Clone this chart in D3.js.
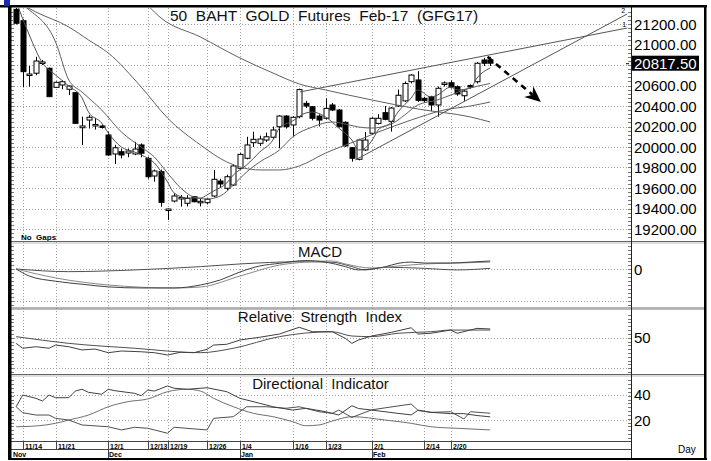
<!DOCTYPE html>
<html>
<head>
<meta charset="utf-8">
<script src="https://cdn.jsdelivr.net/npm/d3@7"></script>
<style>
  body { margin: 0; background: #fff; }
  svg { display: block; font-family: "Liberation Sans", Arial, sans-serif; }
  .pre { white-space: pre; }
</style>
</head>
<body>
<svg id="chart"></svg>
<script>
// ---- price bars (11/11 .. 2/28), one entry per trading day ----
var opens = [21343,21232,20700,20720,20815,20768,20582,20605,20563,20530,
  20188,20263,20210,20205,20117,19932,19954,19941,19932,20020,
  19889,19717,19759,19382,19473,19500,19451,19515,19462,19457,
  19522,19668,19597,19629,19792,19890,20042,20036,20068,20095,
  20198,20302,20215,20296,20426,20393,20302,20280,20410,20361,
  20241,19993,19880,19971,20134,20230,20335,20250,20400,20450,
  20637,20654,20475,20490,20410,20610,20627,20588,20500,20600,
  20637,20849,20849];
var highs = [21360,21250,20790,20880,20850,20775,20640,20650,20600,20535,
  20296,20310,20285,20215,20149,20020,19985,19985,20051,20035,
  19905,19780,19780,19400,19550,19532,19530,19520,19500,19500,
  19776,19690,19730,19830,19940,20100,20149,20110,20140,20200,
  20310,20310,20300,20570,20450,20400,20320,20475,20430,20370,
  20250,20000,20080,20147,20290,20320,20400,20390,20560,20640,
  20710,20740,20490,20500,20590,20640,20650,20600,20560,20610,
  20830,20870,20880];
var lows = [21195,20582,20590,20700,20800,20490,20575,20563,20507,20225,
  20020,20180,20170,20180,19915,19834,19890,19900,19920,19900,
  19690,19661,19418,19288,19460,19418,19420,19460,19420,19440,
  19510,19600,19570,19620,19780,19880,20000,20010,20050,20080,
  19988,20180,20100,20280,20380,20260,20200,20270,20350,20190,
  20000,19857,19870,19960,20120,20220,20260,20150,20390,20440,
  20620,20440,20430,20350,20296,20590,20570,20500,20450,20570,
  20620,20790,20790];
var closes = [21207,20735,20712,20839,20830,20491,20631,20637,20595,20231,
  20205,20290,20220,20195,19922,19993,19922,19961,19980,19939,
  19710,19766,19460,19395,19522,19508,19499,19466,19470,19490,
  19685,19639,19710,19815,19928,20020,20075,20078,20100,20166,
  20302,20198,20290,20560,20400,20280,20263,20377,20361,20198,
  20010,19890,20068,20068,20280,20280,20270,20380,20505,20620,
  20702,20455,20452,20410,20573,20625,20585,20517,20545,20590,
  20817,20817,20817.5];
var lastPrice = 20817.50;

// ---- date axis ----
var dateIdx = [1, 6, 14, 20, 23, 29, 34, 42, 47, 54, 62, 66];
var dateLabels = ["11/14","11/21","12/1","12/13","12/19","12/26","1/4","1/16","1/23","2/1","2/14","2/20"];
var monthIdx = [-0.6, 14, 34, 54];
var monthLabels = ["Nov","Dec","Jan","Feb"];
var priceTicks = [19200,19400,19600,19800,20000,20200,20400,20600,20800,21000,21200];

// ---- moving averages: [bar index, price] ----
var maFast = [[0,21420],[2,21093],[4,20820],[6,20702],[8,20595],[10,20480],[11,20341],[13,20234],[14,20137],
  [16,19999],[18,19951],[19,19922],[21,19844],[23,19659],[24,19551],[26,19502],[28,19502],[29,19532],
  [30,19571],[32,19649],[33,19727],[35,19824],[37,19951],[39,20068],[40,20185],[42,20254],[44,20332],
  [45,20341],[47,20293],[49,20185],[51,20068],[52,19971],[53,19990],[54,20060],[55,20166],[57,20244],
  [58,20341],[60,20478],[61,20556],[63,20488],[64,20507],[66,20585],[67,20556],[69,20576],[70,20673],[72,20771]];
var maMid = [[0,21420],[2,21337],[6,21024],[8,20654],[10,20537],[13,20361],[16,20146],[19,19999],[21,19902],
  [23,19746],[25,19600],[27,19512],[29,19493],[31,19522],[33,19629],[35,19756],[37,19854],[40,19971],
  [42,20098],[45,20195],[48,20244],[50,20224],[52,20195],[54,20185],[57,20224],[59,20312],[61,20410],
  [64,20459],[66,20507],[68,20556],[72,20620]];
var maSlow = [[0,21420],[3,21317],[8,21171],[11,21044],[14,20917],[19,20585],[23,20283],[28,20020],
  [32,19854],[37,19776],[40,19776],[43,19815],[47,19941],[52,20068],[55,20146],[60,20263],[65,20361],
  [69,20400],[72,20439]];
var maLong = [[18,21530],[22,21259],[28,21073],[34,20868],[39,20722],[43,20615],[47,20556],[54,20459],
  [61,20371],[69,20293],[72,20244]];

// ---- trend lines and forecast arrow ----
var trend1 = [[43.1,20537],[92.8,21161]];
var trend2 = [[51.5,19873],[92.8,21298]];
var arrowPath = [[71.6,20880],[79.7,20440]];

// ---- MACD ----
var macdLine = [[0,2],[2,-43],[6,-76],[10,-95],[14,-112],[19,-119],[24,-119],[28,-100],[31,-68],[34,-17],
  [37,21],[40,38],[44,56],[47,46],[50,17],[52,-4],[54,2],[56,15],[58,38],[60,46],[62,40],[66,40],[69,46],[72,53]];
var macdSignal = [[0,2],[6,-55],[14,-100],[24,-119],[28,-113],[34,-43],[40,27],[44,46],[48,53],[50,34],
  [54,8],[58,21],[62,34],[67,40],[72,46]];
var macdSlow = [[0,2],[8,-15],[18,-4],[28,17],[34,34],[43,48],[48,45],[51,17],[53,-4],[56,13],[62,6],[67,-4],[72,6]];

// ---- RSI ----
var rsiLine = [[0,46.3],[1,43.1],[3,44.1],[5,43.1],[6,45.2],[8,44.1],[10,42.0],[12,42.6],[14,40.2],[16,41.3],
  [19,40.8],[21,40.2],[23,38.7],[25,40.5],[27,40.2],[29,42.4],[30,45.2],[32,45.7],[34,48.5],[37,50.3],
  [40,52.4],[41,53.9],[43,56.8],[45,53.9],[48,53.9],[50,49.6],[51,46.3],[52,48.5],[54,51.1],[57,53.5],
  [60,56.5],[61,52.4],[63,52.9],[66,55.0],[67,52.9],[70,56.1],[72,55.7]];
var rsiAvg = [[0,50.7],[8,46.3],[18,43.1],[28,40.2],[33,43.1],[40,50.7],[48,53.9],[51,51.1],[54,50.7],
  [58,52.9],[63,53.9],[66,55.0],[72,55.0]];

// ---- Directional indicator ----
var diMinus = [[0,30.4],[1,39.6],[3,37.0],[4,34.9],[5,39.6],[6,37.5],[8,37.5],[9,42.7],[10,44.1],[11,41.7],
  [13,40.2],[14,44.1],[15,43.0],[18,40.9],[19,39.1],[20,43.5],[21,42.7],[23,46.7],[24,44.9],[26,44.1],
  [29,45.3],[32,42.2],[34,37.0],[37,33.1],[39,30.4],[42,27.8],[44,29.2],[47,26.5],[49,23.9],[51,31.2],
  [52,29.0],[54,27.8],[56,26.5],[58,25.2],[60,24.0],[61,27.5],[63,26.0],[66,25.0],[68,25.0],[70,23.5],[72,22.5]];
var diPlus = [[0,30.4],[1,25.7],[3,23.9],[5,23.9],[6,21.3],[8,20.0],[10,16.1],[14,14.7],[16,12.2],[18,14.3],
  [20,13.5],[23,9.6],[24,14.3],[29,12.2],[30,21.3],[33,22.6],[35,30.4],[38,30.4],[41,29.2],[43,30.4],
  [46,26.5],[48,25.2],[49,27.8],[51,22.0],[54,28.0],[56,29.5],[58,31.0],[60,32.5],[61,27.8],[63,26.0],
  [66,26.5],[68,20.8],[69,26.5],[72,25.3]];
var adxLine = [[0,14.7],[3,15.3],[6,17.4],[8,20.0],[11,23.9],[14,30.4],[17,34.4],[20,36.5],[23,42.2],
  [26,44.1],[28,42.7],[30,37.0],[33,30.4],[36,25.3],[39,22.6],[42,18.7],[44,15.5],[46,16.1],[48,19.2],
  [51,22.6],[56,20.0],[60,17.4],[63,14.7],[67,13.5],[72,12.2]];

// ---------------------------------------------------------------
var W = 711, H = 461;
var left = 11, axisX = 631, rightEdge = 705;
var svg = d3.select("#chart").attr("width", W).attr("height", H);
svg.append("rect").attr("width", W).attr("height", H).attr("fill", "#fff");

var panels = {
  price: { top: 8, bottom: 241 },
  macd:  { top: 243, bottom: 308 },
  rsi:   { top: 310, bottom: 374 },
  di:    { top: 376, bottom: 441 }
};

var x = d3.scaleLinear().domain([0, 72]).range([16.1, 490.2]);
var yPrice = d3.scaleLinear().domain([19200, 21200]).range([229, 24]);
var yMacd = d3.scaleLinear().domain([-200, 0]).range([300.7, 269.3]);
var yRsi = d3.scaleLinear().domain([30, 50]).range([368.3, 337.7]);
var yDi = d3.scaleLinear().domain([20, 40]).range([420, 394.5]);

// clip paths per panel
var defs = svg.append("defs");
Object.keys(panels).forEach(function(k) {
  defs.append("clipPath").attr("id", "clip-" + k)
    .append("rect")
    .attr("x", left).attr("y", panels[k].top)
    .attr("width", axisX - left).attr("height", panels[k].bottom - panels[k].top);
});

var grid = svg.append("g").attr("stroke", "#a0a0a0").attr("stroke-dasharray", "1,2").attr("stroke-width", 1);

// vertical date grid
grid.selectAll(".vg").data(dateIdx).enter().append("line")
  .attr("x1", d => Math.round(x(d)) + 0.5).attr("x2", d => Math.round(x(d)) + 0.5)
  .attr("y1", panels.price.top).attr("y2", panels.di.bottom);

// horizontal grids
function hgrid(vals, scale) {
  grid.selectAll(null).data(vals).enter().append("line")
    .attr("x1", left).attr("x2", axisX)
    .attr("y1", d => Math.round(scale(d)) + 0.5).attr("y2", d => Math.round(scale(d)) + 0.5);
}
hgrid(priceTicks, yPrice);
hgrid([0, -200], yMacd);
hgrid([50, 30], yRsi);
hgrid([40, 20], yDi);

// ---- candles ----
var bars = d3.range(opens.length).map(function(i) {
  return { i: i, o: opens[i], h: highs[i], l: lows[i], c: closes[i] };
});
var candles = svg.append("g").attr("clip-path", "url(#clip-price)");
candles.selectAll(".wick").data(bars).enter().append("line")
  .attr("x1", d => Math.round(x(d.i)) + 0.5).attr("x2", d => Math.round(x(d.i)) + 0.5)
  .attr("y1", d => yPrice(d.h)).attr("y2", d => yPrice(d.l))
  .attr("stroke", "#000").attr("stroke-width", 1);
candles.selectAll(".body").data(bars).enter().append("rect")
  .attr("x", d => Math.round(x(d.i)) - 2)
  .attr("y", d => yPrice(Math.max(d.o, d.c)))
  .attr("width", 5)
  .attr("height", d => Math.max(1.5, Math.abs(yPrice(d.o) - yPrice(d.c))))
  .attr("fill", d => d.c >= d.o ? "#fff" : "#000")
  .attr("stroke", "#000").attr("stroke-width", 1);

// ---- moving averages ----
var priceLine = d3.line().x(d => x(d[0])).y(d => yPrice(d[1])).curve(d3.curveMonotoneX);
var maLayer = svg.append("g").attr("clip-path", "url(#clip-price)").attr("fill", "none");
[[maFast, "#505050"], [maMid, "#606060"], [maSlow, "#606060"], [maLong, "#606060"]].forEach(function(m) {
  maLayer.append("path").attr("d", priceLine(m[0])).attr("stroke", m[1]).attr("stroke-width", 1);
});

// trend lines
var straight = d3.line().x(d => x(d[0])).y(d => yPrice(d[1]));
[trend1, trend2].forEach(function(t) {
  maLayer.append("path").attr("d", straight(t)).attr("stroke", "#555").attr("stroke-width", 1);
});
svg.append("text").attr("x", x(trend1[1][0]) - 5).attr("y", yPrice(trend1[1][1]) - 1)
  .attr("font-size", 7).text("1");
svg.append("text").attr("x", x(trend2[1][0]) - 6).attr("y", yPrice(trend2[1][1]) - 0.5)
  .attr("font-size", 7).text("2");

// forecast arrow
(function() {
  var p0 = [x(arrowPath[0][0]), yPrice(arrowPath[0][1])];
  var p1 = [x(arrowPath[1][0]), yPrice(arrowPath[1][1])];
  var dx = p1[0] - p0[0], dy = p1[1] - p0[1], len = Math.sqrt(dx * dx + dy * dy);
  var ux = dx / len, uy = dy / len, nx = -uy, ny = ux;
  var L = 16, Wd = 7, notch = 11;
  svg.append("line")
    .attr("x1", p0[0]).attr("y1", p0[1])
    .attr("x2", p1[0] - ux * notch).attr("y2", p1[1] - uy * notch)
    .attr("stroke", "#000").attr("stroke-width", 2.6).attr("stroke-dasharray", "6,5");
  var pts = [
    [p1[0], p1[1]],
    [p1[0] - ux * L + nx * Wd, p1[1] - uy * L + ny * Wd],
    [p1[0] - ux * notch, p1[1] - uy * notch],
    [p1[0] - ux * L - nx * Wd, p1[1] - uy * L - ny * Wd]
  ];
  svg.append("polygon").attr("points", pts.map(p => p.join(",")).join(" ")).attr("fill", "#000");
})();

// ---- indicator lines ----
function drawLines(list, scale, panel, curve) {
  var g = svg.append("g").attr("clip-path", "url(#clip-" + panel + ")").attr("fill", "none");
  list.forEach(function(s) {
    var gen = d3.line().x(d => x(d[0])).y(d => scale(d[1])).curve(s[2] || d3.curveLinear);
    g.append("path").attr("d", gen(s[0])).attr("stroke", s[1]).attr("stroke-width", 1);
  });
}
drawLines([[macdSlow, "#505050", d3.curveMonotoneX], [macdSignal, "#888", d3.curveMonotoneX], [macdLine, "#404040", d3.curveMonotoneX]], yMacd, "macd");
drawLines([[rsiAvg, "#505050", d3.curveMonotoneX], [rsiLine, "#404040"]], yRsi, "rsi");
drawLines([[adxLine, "#707070", d3.curveMonotoneX], [diPlus, "#505050"], [diMinus, "#404040"]], yDi, "di");

// ---- panel titles ----
var titles = [
  ["50  BAHT  GOLD  Futures  Feb-17  (GFG17)", 324, 20.5, 15.5],
  ["MACD", 320, 257, 15],
  ["Relative  Strength  Index", 320, 322, 15],
  ["Directional  Indicator", 320.5, 389, 15]
];
svg.selectAll(".title").data(titles).enter().append("text")
  .attr("class", "pre")
  .attr("x", d => d[1]).attr("y", d => d[2])
  .attr("text-anchor", "middle").attr("font-size", d => d[3]).attr("fill", "#111")
  .text(d => d[0]);

svg.append("text").attr("x", 21).attr("y", 239.5).attr("font-size", 8).attr("font-weight", "bold")
  .attr("class", "pre").text("No  Gaps");

// ---- right axis (the last price replaces the tick label it covers) ----
var axisG = svg.append("g").attr("font-size", 15).attr("fill", "#000");
axisG.selectAll(".pl").data(priceTicks.filter(d => Math.abs(yPrice(d) - yPrice(lastPrice)) > 10)).enter().append("text")
  .attr("x", 634).attr("y", d => yPrice(d) + 5.5).text(d => d3.format(".2f")(d));
axisG.append("rect").attr("x", 632).attr("y", yPrice(lastPrice) - 7.5).attr("width", 67).attr("height", 15).attr("fill", "#000");
axisG.append("text").attr("x", 634).attr("y", yPrice(lastPrice) + 5.5).attr("fill", "#fff").text(d3.format(".2f")(lastPrice));
svg.append("line").attr("x1", 626).attr("x2", 629).attr("y1", yPrice(lastPrice) + 0.5).attr("y2", yPrice(lastPrice) + 0.5)
  .attr("stroke", "#000");
axisG.append("text").attr("x", 634).attr("y", yMacd(0) + 5.5).text("0");
axisG.append("text").attr("x", 634).attr("y", yRsi(50) + 5.5).text("50");
axisG.append("text").attr("x", 634).attr("y", yDi(40) + 5.5).text("40");
axisG.append("text").attr("x", 634).attr("y", yDi(20) + 5.5).text("20");

// minor ticks along both sides of each panel
var ticks = svg.append("g").attr("stroke", "#777").attr("stroke-width", 1);
function minorTicks(scale, from, to, step, panel) {
  var vals = d3.range(from, to, step).filter(v => scale(v) > panel.top + 1 && scale(v) < panel.bottom - 1);
  ticks.selectAll(null).data(vals).enter().append("line")
    .attr("x1", axisX - 3).attr("x2", axisX)
    .attr("y1", d => Math.round(scale(d)) + 0.5).attr("y2", d => Math.round(scale(d)) + 0.5);
  ticks.selectAll(null).data(vals).enter().append("line")
    .attr("x1", left).attr("x2", left + 3)
    .attr("y1", d => Math.round(scale(d)) + 0.5).attr("y2", d => Math.round(scale(d)) + 0.5);
}
minorTicks(yPrice, 19000, 21500, 40, panels.price);
minorTicks(yMacd, -300, 200, 25, panels.macd);
minorTicks(yRsi, 20, 80, 2.5, panels.rsi);
minorTicks(yDi, 0, 60, 3, panels.di);

// ---- date axis ----
var dateAxisTop = 441.5, dateMid = 449.5, bottomY = 458;
var ax = svg.append("g").attr("stroke", "#444").attr("stroke-width", 1);
ax.append("line").attr("x1", left).attr("x2", axisX).attr("y1", dateAxisTop).attr("y2", dateAxisTop);
ax.append("line").attr("x1", left).attr("x2", axisX).attr("y1", dateMid).attr("y2", dateMid);
ax.selectAll(".dt").data(dateIdx).enter().append("line")
  .attr("x1", d => Math.round(x(d)) + 0.5).attr("x2", d => Math.round(x(d)) + 0.5)
  .attr("y1", dateAxisTop).attr("y2", dateMid);
ax.selectAll(".mt").data(monthIdx.slice(1)).enter().append("line")
  .attr("x1", d => Math.round(x(d)) + 0.5).attr("x2", d => Math.round(x(d)) + 0.5)
  .attr("y1", dateMid).attr("y2", bottomY);

svg.selectAll(".dl").data(dateIdx).enter().append("text")
  .attr("x", d => Math.round(x(d)) + 2).attr("y", 448.5)
  .attr("font-size", 7).attr("font-weight", "bold").attr("fill", "#000")
  .text((d, i) => dateLabels[i]);
svg.selectAll(".ml").data(monthIdx).enter().append("text")
  .attr("x", d => Math.max(left + 2, Math.round(x(d)) + 1)).attr("y", 457)
  .attr("font-size", 7).attr("font-weight", "bold").attr("fill", "#000")
  .text((d, i) => monthLabels[i]);
svg.append("text").attr("x", 678).attr("y", 453).attr("font-size", 10).text("Day");

// ---- panel separators ----
var sep = svg.append("g");
[[241.5, 243], [308, 309.5], [374.5, 376]].forEach(function(s) {
  sep.append("line").attr("x1", left).attr("x2", rightEdge).attr("y1", s[0]).attr("y2", s[0]).attr("stroke", "#666");
  sep.append("line").attr("x1", left).attr("x2", rightEdge).attr("y1", s[1]).attr("y2", s[1]).attr("stroke", "#bbb");
});

// ---- frame ----
svg.append("line").attr("x1", axisX + 0.5).attr("x2", axisX + 0.5).attr("y1", 6).attr("y2", bottomY)
  .attr("stroke", "#222");
svg.append("rect").attr("x", 0).attr("y", 5).attr("width", 707).attr("height", 2.5).attr("fill", "#000");
svg.append("rect").attr("x", 8).attr("y", 5).attr("width", 3.5).attr("height", 455).attr("fill", "#000");
svg.append("rect").attr("x", 704).attr("y", 5).attr("width", 2.5).attr("height", 455).attr("fill", "#000");
svg.append("rect").attr("x", 8).attr("y", 458).attr("width", 699).attr("height", 2).attr("fill", "#000");
svg.append("rect").attr("x", 4).attr("y", 0).attr("width", 6).attr("height", 6).attr("fill", "#1c2aa8");
</script>
</body>
</html>
